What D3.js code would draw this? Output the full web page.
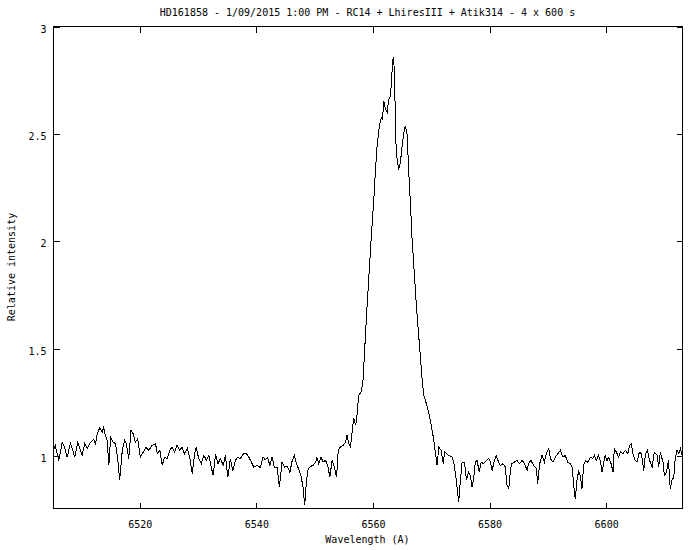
<!DOCTYPE html>
<html>
<head>
<meta charset="utf-8">
<script src="https://cdn.jsdelivr.net/npm/d3@7"></script>
<style>
  html, body { margin: 0; padding: 0; background: #fff; }
  svg { display: block; }
  text { font-family: "DejaVu Sans Mono", "Liberation Mono", monospace; font-size: 10px; fill: #000; }
</style>
</head>
<body>
<svg id="chart" width="700" height="550"></svg>
<script>
const titleText = "HD161858 - 1/09/2015 1:00 PM - RC14 + LhiresIII + Atik314 - 4 x 600 s";
const xLabel = "Wavelength (A)";
const yLabel = "Relative intensity";
const xTicks = [6520, 6540, 6560, 6580, 6600];
const yTicks = [1, 1.5, 2, 2.5, 3];
const yRange = [0.755, 3];

const wavelength = [
  6505.2, 6505.5, 6506.1, 6506.7, 6507.1, 6507.55, 6508.1, 6508.5, 6508.85, 6509.35,
  6509.85, 6510.1, 6510.55, 6511.0, 6511.55, 6512.1, 6512.4, 6512.7, 6513.15, 6513.55,
  6513.8, 6514.1, 6514.4, 6514.7, 6515.0, 6515.45, 6515.85, 6516.25, 6516.55, 6517.0,
  6517.4, 6517.7, 6518.1, 6518.5, 6518.85, 6519.25, 6519.65, 6520.1, 6520.6, 6521.05,
  6521.55, 6522.1, 6522.7, 6523.0, 6523.45, 6523.85, 6524.25, 6524.7, 6525.15, 6525.55,
  6525.95, 6526.4, 6526.85, 6527.25, 6527.65, 6528.15, 6528.6, 6529.0, 6529.4, 6529.7,
  6530.1, 6530.55, 6531.0, 6531.45, 6531.85, 6532.25, 6532.6, 6533.0, 6533.4, 6533.85,
  6534.3, 6534.7, 6535.1, 6535.55, 6535.95, 6536.4, 6536.8, 6537.25, 6537.85, 6538.3,
  6538.7, 6539.0, 6539.55, 6540.15, 6540.7, 6541.15, 6541.55, 6541.95, 6542.3, 6542.7,
  6543.1, 6543.55, 6543.95, 6544.4, 6544.8, 6545.3, 6545.75, 6546.15, 6546.55, 6546.85,
  6547.25, 6547.7, 6548.0, 6548.3, 6548.6, 6548.9, 6549.3, 6549.75, 6550.15, 6550.4,
  6550.7, 6551.1, 6551.45, 6551.85, 6552.25, 6552.6, 6553.0, 6553.4, 6553.75, 6554.05,
  6554.4, 6554.9, 6555.3, 6555.55, 6555.85, 6556.15, 6556.45, 6556.7, 6557.05, 6557.3,
  6557.55, 6558.0, 6558.3, 6558.95, 6559.7, 6560.15, 6560.4, 6560.7, 6561.1, 6561.45,
  6561.65, 6561.85, 6562.15, 6562.45, 6562.7, 6563.0, 6563.15, 6563.4, 6563.55, 6563.75,
  6563.85, 6564.15, 6564.4, 6564.7, 6565.0, 6565.3, 6565.55, 6565.85, 6566.15, 6566.45,
  6566.7, 6567.5, 6568.45, 6568.7, 6569.0, 6569.3, 6569.55, 6569.85, 6570.15, 6570.4,
  6570.7, 6571.0, 6571.3, 6571.7, 6572.05, 6572.3, 6573.0, 6573.6, 6573.85, 6574.3,
  6574.7, 6575.0, 6575.3, 6575.7, 6576.05, 6576.4, 6576.7, 6577.0, 6577.3, 6577.55,
  6577.85, 6578.25, 6578.55, 6579.0, 6579.45, 6579.85, 6580.15, 6580.45, 6580.7, 6581.15,
  6581.55, 6581.85, 6582.3, 6582.7, 6583.0, 6583.3, 6583.6, 6583.85, 6584.25, 6584.7,
  6585.15, 6585.6, 6586.0, 6586.45, 6586.7, 6587.1, 6587.55, 6588.05, 6588.25, 6588.6,
  6589.0, 6589.4, 6589.75, 6590.15, 6590.45, 6590.9, 6591.3, 6591.7, 6592.15, 6592.6,
  6593.0, 6593.4, 6593.85, 6594.15, 6594.45, 6594.7, 6595.0, 6595.3, 6595.6, 6595.85,
  6596.15, 6596.45, 6596.85, 6597.3, 6597.7, 6598.0, 6598.3, 6598.7, 6599.0, 6599.3,
  6599.6, 6599.85, 6600.15, 6600.45, 6600.85, 6601.2, 6601.4, 6601.75, 6602.15, 6602.45,
  6602.9, 6603.3, 6603.7, 6604.05, 6604.3, 6604.6, 6605.0, 6605.3, 6605.7, 6606.05,
  6606.45, 6606.75, 6607.1, 6607.45, 6607.9, 6608.25, 6608.75, 6609.0, 6609.3, 6609.75,
  6610.0, 6610.35, 6610.7, 6611.0, 6611.3, 6611.6, 6611.85, 6612.15, 6612.45, 6612.75,
  6613.1
];

const intensity = [
  1.026, 1.049, 0.979, 1.064, 1.041, 0.994, 1.060, 1.026, 0.994, 1.064,
  1.026, 1.002, 1.057, 1.034, 1.064, 1.076, 1.057, 1.104, 1.132, 1.111,
  1.132, 1.096, 1.072, 0.956, 1.088, 1.064, 1.057, 0.979, 0.886, 1.026,
  1.072, 1.057, 0.987, 1.119, 1.104, 1.064, 1.080, 0.994, 1.018, 1.041,
  1.026, 1.049, 1.057, 1.010, 1.026, 0.956, 0.994, 0.987, 1.026, 1.041,
  1.018, 1.049, 1.026, 1.041, 1.010, 1.034, 0.987, 0.917, 1.010, 1.041,
  0.987, 0.964, 1.002, 0.979, 1.002, 0.948, 0.909, 1.010, 0.964, 0.987,
  0.956, 1.002, 0.901, 0.987, 0.932, 0.979, 0.994, 0.987, 1.013, 1.010,
  0.994, 0.979, 0.948, 0.956, 0.945, 0.994, 0.982, 0.992, 0.956, 0.994,
  0.945, 0.948, 0.854, 0.971, 0.948, 0.951, 0.924, 0.979, 1.002, 0.964,
  0.940, 0.901, 0.854, 0.770, 0.886, 0.940, 0.951, 0.956, 0.971, 0.992,
  0.964, 0.994, 0.971, 0.979, 0.956, 0.901, 0.979, 0.948, 0.901, 1.026,
  1.041, 1.049, 1.064, 1.096, 1.057, 1.041, 1.119, 1.174, 1.143, 1.197,
  1.283, 1.298, 1.353, 1.680, 2.015, 2.194, 2.319, 2.443, 2.536, 2.576,
  2.568, 2.653, 2.615, 2.599, 2.661, 2.677, 2.731, 2.848, 2.856, 2.739,
  2.490, 2.381, 2.334, 2.365, 2.443, 2.506, 2.536, 2.498, 2.319, 2.163,
  2.015, 1.680, 1.353, 1.283, 1.259, 1.228, 1.205, 1.166, 1.119, 1.080,
  1.018, 0.956, 1.041, 1.026, 0.964, 1.018, 1.002, 0.994, 0.971, 0.886,
  0.784, 0.886, 0.971, 0.971, 0.886, 0.924, 0.909, 0.854, 0.901, 0.971,
  0.979, 0.924, 0.971, 0.964, 0.979, 0.987, 0.971, 0.932, 0.964, 1.002,
  0.971, 0.956, 0.964, 0.948, 0.862, 0.847, 0.940, 0.964, 0.971, 0.979,
  0.964, 0.979, 0.964, 0.932, 0.964, 0.979, 0.956, 0.940, 0.870, 0.964,
  1.002, 0.971, 1.010, 1.034, 0.987, 0.971, 0.994, 1.010, 1.026, 0.994,
  1.002, 0.971, 0.964, 0.948, 0.862, 0.800, 0.886, 0.932, 0.901, 0.847,
  0.956, 0.979, 0.971, 0.994, 0.987, 1.002, 0.979, 1.002, 0.979, 0.924,
  0.971, 1.002, 0.979, 0.994, 0.964, 0.924, 1.034, 1.018, 0.994, 1.018,
  1.010, 1.026, 1.010, 1.049, 1.057, 1.010, 0.979, 0.971, 1.018, 1.010,
  0.932, 1.010, 1.026, 0.979, 0.948, 1.018, 1.002, 0.948, 1.018, 0.971,
  0.909, 0.924, 0.979, 0.847, 0.886, 0.901, 0.987, 1.026, 1.010, 1.034,
  0.994
];

const W = 700, H = 550;
const margin = { left: 53, right: 18, top: 26, bottom: 42 };
const iw = W - margin.left - margin.right;
const ih = H - margin.top - margin.bottom;

const svg = d3.select("#chart");
const g = svg.append("g").attr("transform", `translate(${margin.left + 0.5},${margin.top + 0.5})`);

const data = wavelength.map((w, i) => ({ w, v: intensity[i] }));

const x = d3.scaleLinear().domain(d3.extent(wavelength)).range([0, iw]);
const y = d3.scaleLinear().domain(yRange).range([ih, 0]);

const tickLen = 6;

const xb = g.append("g").attr("transform", `translate(0,${ih})`)
  .call(d3.axisBottom(x).tickValues(xTicks).tickFormat(d3.format("d")).tickSizeInner(-tickLen).tickSizeOuter(0).tickPadding(12));
const xt = g.append("g")
  .call(d3.axisTop(x).tickValues(xTicks).tickFormat("").tickSizeInner(-tickLen).tickSizeOuter(0));
const yl = g.append("g")
  .call(d3.axisLeft(y).tickValues(yTicks).tickFormat(d => String(d)).tickSizeInner(-tickLen).tickSizeOuter(0).tickPadding(7));
const yr = g.append("g").attr("transform", `translate(${iw},0)`)
  .call(d3.axisRight(y).tickValues(yTicks).tickFormat("").tickSizeInner(-tickLen).tickSizeOuter(0));

[xb, xt, yl, yr].forEach(a => {
  a.select(".domain").remove();
  a.selectAll("line").attr("stroke", "#000").attr("shape-rendering", "crispEdges");
  a.selectAll("text").attr("font-family", null).attr("font-size", null).attr("fill", "#000");
});
yl.selectAll("text").attr("dy", "0.55em");

g.append("rect")
  .attr("x", 0).attr("y", 0).attr("width", iw).attr("height", ih)
  .attr("fill", "none").attr("stroke", "#000").attr("shape-rendering", "crispEdges");

const line = d3.line().x(d => x(d.w)).y(d => y(d.v));
g.append("path").datum(data)
  .attr("d", line)
  .attr("fill", "none")
  .attr("stroke", "#000")
  .attr("stroke-width", 1)
  .attr("shape-rendering", "crispEdges");

svg.append("text")
  .attr("x", margin.left + iw / 2).attr("y", 16)
  .attr("text-anchor", "middle")
  .text(titleText);

svg.append("text")
  .attr("x", margin.left + iw / 2).attr("y", 543)
  .attr("text-anchor", "middle")
  .text(xLabel);

svg.append("text")
  .attr("transform", `translate(15,${margin.top + ih / 2}) rotate(-90)`)
  .attr("text-anchor", "middle")
  .text(yLabel);
</script>
</body>
</html>
